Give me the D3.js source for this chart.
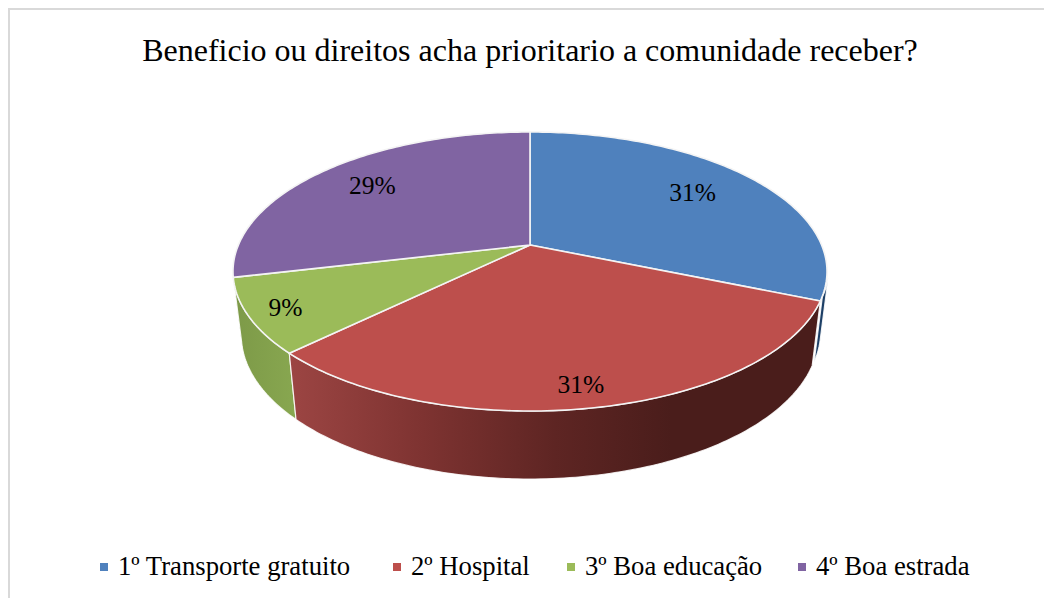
<!DOCTYPE html>
<html>
<head>
<meta charset="utf-8">
<script src="https://d3js.org/d3.v7.min.js"></script>
<style>
    html, body { margin: 0; background: #fff; }
    svg { display: block; }
    text { font-family: "Liberation Serif", serif; fill: #000; }
</style>
</head>
<body>
<div id="chart"></div>
<script>
var titleText = "Beneficio ou direitos acha prioritario a comunidade receber?";
var categories = ["1º Transporte gratuito", "2º Hospital", "3º Boa educação", "4º Boa estrada"];
var shares = [31.3, 31.4, 8.6, 28.7];
var colors = ["#4f81bd", "#bd4f4c", "#9bbb59", "#8064a2"];

var width = 1044, height = 598;

// perspective of the disc: apex is not the centre of the ellipse
var apexX = 530, apexY = 245, R = 291.6, tilt = 134.5, k = 0.19;
// the lower rim is a little narrower and is seen a little flatter
var lowerY = 308, lowerSx = 0.972, lowerSy = 1.03;

function project(angle, r) {
    var u = r * Math.sin(angle), v = -r * Math.cos(angle), w = 1 - k * v;
    return [R * u / w, tilt * v / w];
}
function topPoint(angle, r) {
    var p = project(angle, r);
    return [apexX + p[0], apexY + p[1]];
}
function lowerPoint(angle) {
    var p = project(angle, 1);
    return [apexX + lowerSx * p[0], lowerY + lowerSy * p[1]];
}
function angles(a0, a1) {
    var n = Math.max(2, Math.ceil((a1 - a0) * 60));
    return d3.range(n + 1).map(function(i) { return a0 + (a1 - a0) * i / n; });
}

var svg = d3.select("#chart").append("svg").attr("width", width).attr("height", height);
var defs = svg.append("defs");
var line = d3.line();

// outer frame, only top and left fall inside the picture
svg.append("path")
    .attr("d", line([[width + 2, 9], [9, 9], [9, height + 2]]))
    .attr("fill", "none")
    .attr("stroke", "#d9d9d9")
    .attr("stroke-width", 2);

svg.append("text")
    .attr("x", 530).attr("y", 61)
    .attr("text-anchor", "middle")
    .attr("font-size", 32)
    .text(titleText);

var slices = d3.pie().sort(null).value(function(d) { return d; })(shares);

var redSide = defs.append("linearGradient").attr("id", "redSide")
    .attr("gradientUnits", "userSpaceOnUse")
    .attr("x1", 290).attr("x2", 820).attr("y1", 0).attr("y2", 0);
[[0, "#9c4543"], [0.25, "#7e3331"], [0.5, "#5e2523"], [0.72, "#4a1d1b"], [1, "#4a1d1b"]].forEach(function(s) {
    redSide.append("stop").attr("offset", s[0]).attr("stop-color", s[1]);
});
var greenSide = defs.append("linearGradient").attr("id", "greenSide")
    .attr("gradientUnits", "userSpaceOnUse")
    .attr("x1", 235).attr("x2", 296).attr("y1", 0).attr("y2", 0);
[[0, "#7d9a48"], [1, "#88a750"]].forEach(function(s) {
    greenSide.append("stop").attr("offset", s[0]).attr("stop-color", s[1]);
});
var sideFill = ["#1d3f66", "url(#redSide)", "url(#greenSide)", "#5f4a79"];
// blue wall peeks out a bit more than the projection gives, so it is nudged
// and started lower down so it does not stick out above the rim
var wallShift = [[2, -4], [0, 0], [0, 0], [0, 0]];
var wallStart = [Math.PI * 105 / 180, Math.PI / 2, Math.PI / 2, Math.PI / 2];

// side walls, back ones first, only the part facing the viewer
[3, 0, 2, 1].forEach(function(i) {
    var a0 = Math.max(slices[i].startAngle, wallStart[i]);
    var a1 = Math.min(slices[i].endAngle, Math.PI * 1.5);
    if (a1 <= a0) return;
    var arc = angles(a0, a1);
    var pts = arc.map(function(a) { return topPoint(a, 1); })
        .concat(arc.slice().reverse().map(lowerPoint));
    svg.append("path")
        .attr("d", line(pts) + "Z")
        .attr("transform", "translate(" + wallShift[i] + ")")
        .attr("fill", sideFill[i])
        .attr("stroke", "#fff")
        .attr("stroke-opacity", 0.85)
        .attr("stroke-width", 1.2)
        .attr("stroke-linejoin", "round");
});

// top of the disc
slices.forEach(function(s, i) {
    var pts = [[apexX, apexY]].concat(angles(s.startAngle, s.endAngle).map(function(a) { return topPoint(a, 1); }));
    svg.append("path")
        .attr("d", line(pts) + "Z")
        .attr("fill", colors[i])
        .attr("stroke", "#f4f4f4")
        .attr("stroke-width", 1.6)
        .attr("stroke-linejoin", "round");
});

// percentage labels, radial distance picked per slice
var labelRadius = [0.74, 0.885, 0.88, 0.745];
var labelDx = [-4, -7, 0, -1];
var labelDy = [-1, 0, 1, -2];
var pct = d3.format(".0f");
slices.forEach(function(s, i) {
    var p = topPoint((s.startAngle + s.endAngle) / 2, labelRadius[i]);
    svg.append("text")
        .attr("x", p[0] + labelDx[i]).attr("y", p[1] + 8 + labelDy[i])
        .attr("text-anchor", "middle")
        .attr("font-size", 25.5)
        .text(pct(s.value) + "%");
});

// legend
var legendX = d3.scaleOrdinal().domain(categories).range([100, 393, 567, 798]);
categories.forEach(function(c, i) {
    svg.append("rect")
        .attr("x", legendX(c)).attr("y", 563)
        .attr("width", 8).attr("height", 8)
        .attr("fill", colors[i]);
    svg.append("text")
        .attr("x", legendX(c) + 18).attr("y", 575)
        .attr("font-size", 26.7)
        .text(c);
});
</script>
</body>
</html>
